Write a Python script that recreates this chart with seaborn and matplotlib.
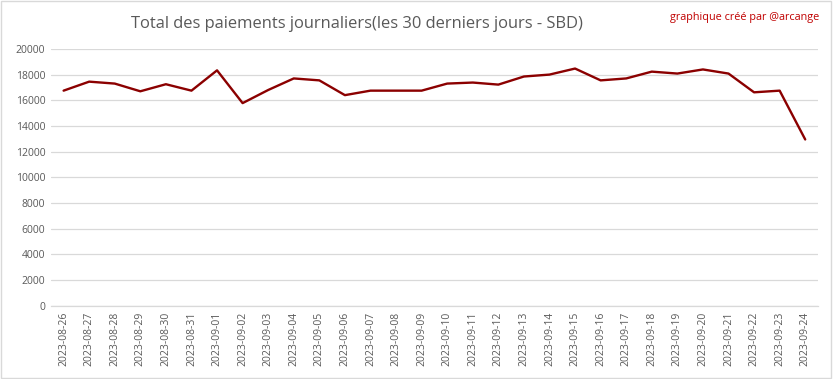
import pandas as pd
import matplotlib.pyplot as plt
import matplotlib.patches as mpatches
import seaborn as sns

# données
dates = ["2023-08-26", "2023-08-27", "2023-08-28", "2023-08-29", "2023-08-30",
         "2023-08-31", "2023-09-01", "2023-09-02", "2023-09-03", "2023-09-04",
         "2023-09-05", "2023-09-06", "2023-09-07", "2023-09-08", "2023-09-09",
         "2023-09-10", "2023-09-11", "2023-09-12", "2023-09-13", "2023-09-14",
         "2023-09-15", "2023-09-16", "2023-09-17", "2023-09-18", "2023-09-19",
         "2023-09-20", "2023-09-21", "2023-09-22", "2023-09-23", "2023-09-24"]
paiements = [16750, 17450, 17300, 16700, 17250, 16750, 18330, 15780, 16800, 17700,
             17550, 16400, 16750, 16750, 16750, 17300, 17380, 17220, 17850, 18000,
             18470, 17550, 17700, 18230, 18080, 18400, 18080, 16620, 16750, 12950]
y_ticks = list(range(0, 20001, 2000))

df = pd.DataFrame({"date": dates, "sbd": paiements})

sns.set_style("white")
plt.rcParams['font.family'] = ['Open Sans', 'DejaVu Sans']

fig = plt.figure(figsize=(8.33, 3.79), dpi=100)
ax = fig.add_axes([0.061, 0.193, 0.921, 0.678])

sns.lineplot(data=df, x="date", y="sbd", color="#8b0000", linewidth=1.7, ax=ax, sort=False)

ax.set_xlim(-0.5, len(dates) - 0.5)
ax.set_ylim(0, 20000)
ax.set_yticks(y_ticks)
ax.set_yticklabels([str(v) for v in y_ticks], fontsize=7.5, color="#595959")
ax.set_xticks(range(len(dates)))
ax.set_xticklabels(dates, rotation=90, fontsize=7.5, color="#595959")
ax.tick_params(axis="both", length=0, pad=4)
ax.set_xlabel("")
ax.set_ylabel("")
ax.grid(axis="y", color="#d9d9d9", linewidth=0.9)
ax.set_axisbelow(True)
for s in ["top", "right", "left"]:
    ax.spines[s].set_visible(False)
ax.spines["bottom"].set_color("#d9d9d9")
ax.spines["bottom"].set_linewidth(0.9)

fig.text(0.429, 0.937, "Total des paiements journaliers(les 30 derniers jours - SBD)",
         ha="center", va="center", fontsize=11.9, color="#595959")
fig.text(0.984, 0.955, "graphique créé par @arcange", ha="right", va="center",
         fontsize=7.8, color="#c00000")

fig.patches.append(mpatches.Rectangle((0.001, 0.002), 0.997, 0.995, transform=fig.transFigure,
                                      fill=False, edgecolor="#d9d9d9", linewidth=1))

plt.savefig("out.png", dpi=100)
plt.close()
